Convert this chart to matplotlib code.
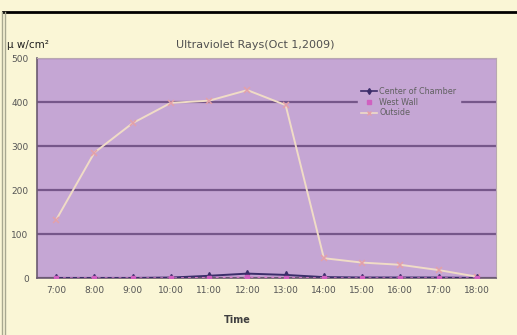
import matplotlib.pyplot as plt
from matplotlib.lines import Line2D

# hourly readings, uW/cm2
times = ["7:00", "8:00", "9:00", "10:00", "11:00", "12:00", "13:00",
         "14:00", "15:00", "16:00", "17:00", "18:00"]
center = [0, 0, 0, 1, 5, 10, 7, 2, 1, 1, 1, 0]
west_wall = [0, 0, 0, 0, 1, 2, 1, 0, 0, 0, 0, 0]
outside = [132, 285, 352, 398, 403, 427, 393, 45, 35, 30, 18, 3]

bg = "#faf6d6"
plot_bg = "#c5a6d4"

fig = plt.figure(figsize=(5.17, 3.35), dpi=100, facecolor=bg)
ax = fig.add_axes([37 / 517, 1 - 278 / 335, 459 / 517, 220 / 335])
ax.set_facecolor(plot_bg)

x = list(range(len(times)))
ax.plot(x, outside, color="#f0dcc6", lw=1.4, marker="x", ms=5,
        mec="#e4a0a8", mew=1.1, label="Outside", zorder=3)
ax.plot(x, center, color="#3b2d6a", lw=1.4, marker="d", ms=4,
        mfc="#3b2d6a", label="Center of Chamber", zorder=4)
ax.plot(x, west_wall, color="#d47ac8", lw=1.0, ls=(0, (2, 3)), marker="s",
        ms=3, mfc="#d060c0", mec="#d060c0", label="West Wall", zorder=5)

ax.set_xlim(-0.5, len(times) - 0.5)
ax.set_ylim(0, 500)
ax.set_yticks(range(0, 501, 100))
ax.set_xticks(x)
ax.set_xticklabels(times)
ax.yaxis.grid(True, color="#76578a", lw=1.6)
ax.set_axisbelow(True)
ax.tick_params(length=0, labelsize=6.5, colors="#555555", pad=6)

for side in ["top", "right"]:
    ax.spines[side].set_color("#b8a8b0")
    ax.spines[side].set_linewidth(0.8)
ax.spines["left"].set_color("#6a5a70")
ax.spines["bottom"].set_color("#6a5a70")
ax.spines["left"].set_linewidth(1.2)
ax.spines["bottom"].set_linewidth(1.2)

handles = [
    Line2D([], [], color="#3b2d6a", lw=1.2, marker="d", ms=3),
    Line2D([], [], color="#d47ac8", lw=0, marker="s", ms=2.5, mfc="#d060c0", mec="#d060c0"),
    Line2D([], [], color="#f0dcc6", lw=1.2, marker="x", ms=3, mec="#e4a0a8"),
]
leg = ax.legend(handles, ["Center of Chamber", "West Wall", "Outside"],
                loc="upper left", bbox_to_anchor=(0.69, 0.9), fontsize=5.8,
                frameon=True, facecolor=plot_bg, edgecolor=plot_bg,
                framealpha=1, handlelength=2.0, handletextpad=0.3,
                labelspacing=0.2, borderpad=0.4)
for t in leg.get_texts():
    t.set_color("#606060")

fig.text(255 / 517, 1 - 45 / 335, "Ultraviolet Rays(Oct 1,2009)", ha="center",
         va="center", fontsize=8, color="#505050")
fig.text(7 / 517, 1 - 45 / 335, "\u03bc w/cm\u00b2", ha="left", va="center",
         fontsize=7.5, color="#202020")
fig.text(237 / 517, 1 - 320 / 335, "Time", ha="center", va="center",
         fontsize=7, color="#404040", fontweight="bold")

# frame decorations
fig.add_artist(Line2D([3 / 517, 1], [1 - 12 / 335] * 2, color="black", lw=2))
fig.add_artist(Line2D([2 / 517] * 2, [0, 1 - 12 / 335], color="#a8a890", lw=1))
fig.add_artist(Line2D([5 / 517] * 2, [0, 1 - 12 / 335], color="#a8a890", lw=1))

fig.savefig("out.png", dpi=100, facecolor=bg)
